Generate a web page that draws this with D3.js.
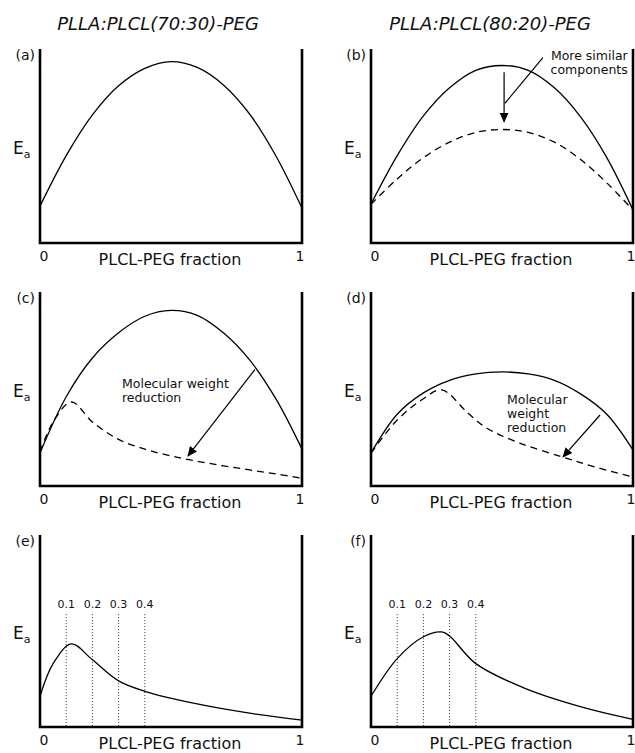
<!DOCTYPE html>
<html>
  <head>
    <meta charset="utf-8">
    <script type="text/javascript" src="https://d3js.org/d3.v7.min.js"></script>
  </head>
  <style>
    body { margin: 0; background: #fff; }
    text { font-family: "DejaVu Sans", Verdana, sans-serif; fill: #111; }
  </style>
  <body>
    <div id="my_chart"></div>
    <script type="text/javascript">
        // column titles
        var titles = ["PLLA:PLCL(70:30)-PEG", "PLLA:PLCL(80:20)-PEG"];
        var panelLabels = ["(a)", "(b)", "(c)", "(d)", "(e)", "(f)"];
        var xTicks = [0, 1];
        var xLabel = "PLCL-PEG fraction";

        // regular grid of PLCL-PEG fraction
        var fracGrid = [0, 0.1, 0.2, 0.3, 0.4, 0.5, 0.6, 0.7, 0.8, 0.9, 1];

        // (a)
        var eaA = [0.19, 0.45, 0.66, 0.81, 0.9, 0.935, 0.905, 0.815, 0.665, 0.45, 0.18];
        // (b)
        var eaBSolid = [0.2, 0.45, 0.655, 0.8, 0.89, 0.915, 0.89, 0.8, 0.65, 0.44, 0.17];
        var eaBDashed = [0.2, 0.33, 0.44, 0.52, 0.57, 0.585, 0.57, 0.52, 0.43, 0.31, 0.17];
        // (c)
        var eaCSolid = [0.17, 0.46, 0.66, 0.79, 0.875, 0.905, 0.88, 0.79, 0.65, 0.45, 0.19];
        var fracCDashed = [0, 0.05, 0.12, 0.2, 0.3, 0.4, 0.5, 0.6, 0.7, 0.8, 0.9, 1];
        var eaCDashed = [0.175, 0.33, 0.433, 0.33, 0.24, 0.19, 0.155, 0.128, 0.104, 0.083, 0.062, 0.04];
        // (d)
        var eaDSolid = [0.17, 0.37, 0.48, 0.545, 0.578, 0.588, 0.578, 0.545, 0.475, 0.37, 0.186];
        var fracDDashed = [0, 0.1, 0.2, 0.27, 0.37, 0.44, 0.57, 0.73, 0.85, 1];
        var eaDDashed = [0.17, 0.34, 0.45, 0.495, 0.376, 0.3, 0.22, 0.15, 0.1, 0.046];
        // (e)
        var fracE = [0, 0.05, 0.12, 0.2, 0.3, 0.4, 0.6, 0.8, 1];
        var eaE = [0.16, 0.33, 0.433, 0.35, 0.24, 0.186, 0.12, 0.072, 0.036];
        // (f)
        var fracF = [0, 0.1, 0.2, 0.27, 0.3, 0.4, 0.59, 0.82, 1];
        var eaF = [0.16, 0.356, 0.47, 0.495, 0.474, 0.33, 0.2, 0.098, 0.04];
        // dotted markers in (e) and (f)
        var markerFracs = [0.1, 0.2, 0.3, 0.4];
        var markerLabels = ["0.1", "0.2", "0.3", "0.4"];
        var markerTop = 0.588;

        var width = 635, height = 753;
        var cols = [[40, 302], [371, 633]];
        var rows = [[49, 243], [292, 486], [535, 727]];

        var svg = d3.select("#my_chart")
            .append("svg")
                .attr("width", width)
                .attr("height", height);

        var defs = svg.append("defs");
        defs.append("marker")
            .attr("id", "head")
            .attr("viewBox", "0 0 10 10")
            .attr("refX", 9).attr("refY", 5)
            .attr("markerWidth", 10).attr("markerHeight", 10)
            .attr("markerUnits", "userSpaceOnUse")
            .attr("orient", "auto")
          .append("path")
            .attr("d", "M0,0.5 L10,5 L0,9.5 Z")
            .attr("fill", "#000");

        function zip(xs, ys) { return xs.map(function(x, i) { return [x, ys[i]]; }); }

        var panels = [
            {series: [{pts: zip(fracGrid, eaA), dash: null}],
             notes: []},
            {series: [{pts: zip(fracGrid, eaBSolid), dash: null},
                      {pts: zip(fracGrid, eaBDashed), dash: "7,5"}],
             notes: [{arrow: [[0.508, 0.88], [0.508, 0.625]]},
                     {line: [[0.656, 0.955], [0.511, 0.72]]},
                     {text: ["More similar", "components"], at: [0.98, 0.945], anchor: "end"}]},
            {series: [{pts: zip(fracGrid, eaCSolid), dash: null},
                      {pts: zip(fracCDashed, eaCDashed), dash: "7,5"}],
             notes: [{arrow: [[0.82, 0.6], [0.565, 0.155]]},
                     {text: ["Molecular weight", "reduction"], at: [0.313, 0.505], anchor: "start"}]},
            {series: [{pts: zip(fracGrid, eaDSolid), dash: null},
                      {pts: zip(fracDDashed, eaDDashed), dash: "7,5"}],
             notes: [{arrow: [[0.874, 0.366], [0.733, 0.15]]},
                     {text: ["Molecular", "weight", "reduction"], at: [0.519, 0.423], anchor: "start"}]},
            {series: [{pts: zip(fracE, eaE), dash: null}], markers: true, notes: []},
            {series: [{pts: zip(fracF, eaF), dash: null}], markers: true, notes: []}
        ];

        // column titles
        svg.selectAll(".title")
            .data(titles)
            .enter().append("text")
                .attr("class", "title")
                .attr("x", function(d, i) { return i == 0 ? 158 : 490; })
                .attr("y", 30)
                .attr("text-anchor", "middle")
                .attr("font-size", "18px")
                .attr("font-style", "italic")
                .text(function(d) { return d; });

        var line = d3.line().curve(d3.curveCatmullRom.alpha(0.5));

        panels.forEach(function(p, i) {
            var c = cols[i % 2], r = rows[Math.floor(i / 2)];
            var x = d3.scaleLinear().domain([0, 1]).range(c);
            var y = d3.scaleLinear().domain([0, 1]).range([r[1], r[0]]);
            var g = svg.append("g");

            line.x(function(d) { return x(d[0]); }).y(function(d) { return y(d[1]); });

            // dotted fraction markers
            if (p.markers) {
                g.selectAll(".mk")
                    .data(markerFracs)
                    .enter().append("line")
                        .attr("x1", function(d) { return x(d); })
                        .attr("x2", function(d) { return x(d); })
                        .attr("y1", y(markerTop))
                        .attr("y2", y(0))
                        .attr("stroke", "#333")
                        .attr("stroke-width", 1)
                        .attr("stroke-dasharray", "1,2");
                g.selectAll(".mkl")
                    .data(markerFracs)
                    .enter().append("text")
                        .attr("x", function(d) { return x(d); })
                        .attr("y", y(markerTop) - 6)
                        .attr("text-anchor", "middle")
                        .attr("font-size", "11px")
                        .text(function(d, j) { return markerLabels[j]; });
            }

            // curves
            p.series.forEach(function(s) {
                g.append("path")
                    .attr("d", line(s.pts))
                    .attr("fill", "none")
                    .attr("stroke", "#000")
                    .attr("stroke-width", 1.3)
                    .attr("stroke-dasharray", s.dash);
            });

            // frame: left, bottom, right
            g.append("path")
                .attr("d", "M" + c[0] + "," + r[0] + "V" + r[1] + "H" + c[1] + "V" + r[0])
                .attr("fill", "none")
                .attr("stroke", "#000")
                .attr("stroke-width", 2.6);

            // x axis tick labels
            var ax = g.append("g")
                .attr("transform", "translate(0," + r[1] + ")")
                .call(d3.axisBottom(x).tickValues(xTicks).tickSize(0).tickPadding(8).tickFormat(d3.format("d")));
            ax.select(".domain").remove();
            ax.selectAll("text")
                .attr("font-size", "14px")
                .attr("font-family", "DejaVu Sans, sans-serif")
                .attr("fill", "#111")
                .attr("text-anchor", function(d) { return d == 0 ? "start" : "end"; })
                .attr("dx", function(d) { return d == 0 ? "-1" : "2"; });

            g.append("text")
                .attr("x", (c[0] + c[1]) / 2 - 1)
                .attr("y", r[1] + 22)
                .attr("text-anchor", "middle")
                .attr("font-size", "16px")
                .text(xLabel);

            // y label E_a
            var ea = g.append("text")
                .attr("x", c[0] - 27)
                .attr("y", (r[0] + r[1]) / 2 + 8)
                .attr("font-size", "17px");
            ea.append("tspan").text("E");
            ea.append("tspan").attr("font-size", "11px").attr("dy", 4).text("a");

            // panel label
            g.append("text")
                .attr("x", c[0] - 5)
                .attr("y", r[0] + 11)
                .attr("text-anchor", "end")
                .attr("font-size", "14px")
                .text(panelLabels[i]);

            // annotations
            p.notes.forEach(function(n) {
                if (n.arrow || n.line) {
                    var pts = n.arrow || n.line;
                    g.append("line")
                        .attr("x1", x(pts[0][0])).attr("y1", y(pts[0][1]))
                        .attr("x2", x(pts[1][0])).attr("y2", y(pts[1][1]))
                        .attr("stroke", "#000")
                        .attr("stroke-width", 1.2)
                        .attr("marker-end", n.arrow ? "url(#head)" : null);
                }
                if (n.text) {
                    var t = g.append("text")
                        .attr("x", x(n.at[0]))
                        .attr("y", y(n.at[1]))
                        .attr("text-anchor", n.anchor)
                        .attr("font-size", "12.5px");
                    n.text.forEach(function(s, k) {
                        t.append("tspan")
                            .attr("x", x(n.at[0]))
                            .attr("dy", k == 0 ? 0 : 14)
                            .text(s);
                    });
                }
            });
        });
    </script>
  </body>
</html>
